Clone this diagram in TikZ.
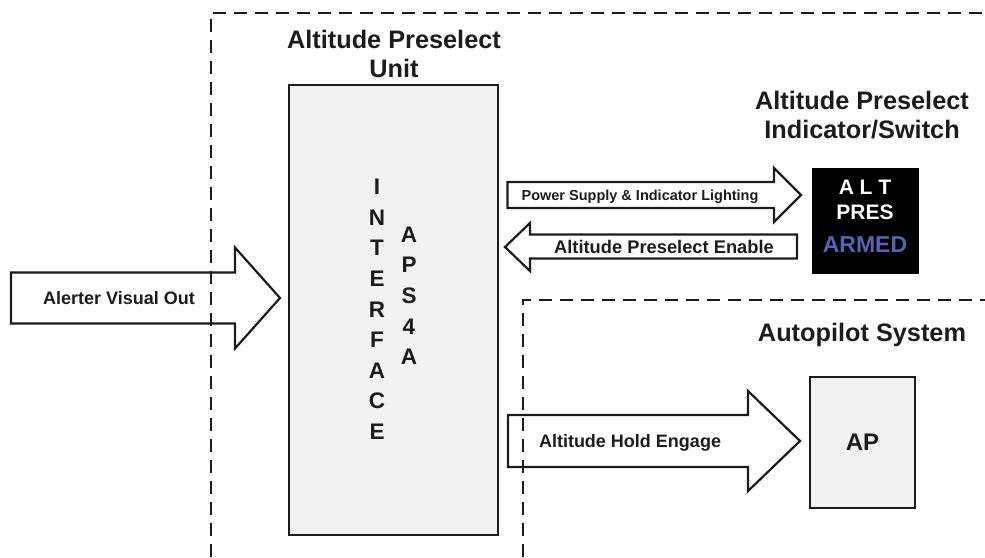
\documentclass[tikz,border=0pt]{standalone}
\usepackage{fontspec}
\setmainfont{Liberation Sans}
\usetikzlibrary{positioning}

\definecolor{boxgray}{HTML}{F2F2F2}
\definecolor{armedblue}{HTML}{5366B5}
\definecolor{inkgray}{HTML}{1C1C1C}

\begin{document}
\begin{tikzpicture}[x=1pt,y=-1pt,
    frame/.style={draw=inkgray, line width=2.6pt, dash pattern=on 13pt off 8pt},
    unitbox/.style={draw=inkgray, line width=2.4pt, fill=boxgray},
    fatarrow/.style={draw=inkgray, line width=2.2pt, line join=miter},
    lbl/.style={font=\bfseries\fontsize{18}{21}\selectfont, text=inkgray, text depth=0pt},
    title/.style={font=\bfseries\fontsize{25.3}{29}\selectfont, text=inkgray, align=center},
    letter/.style={font=\bfseries\fontsize{22.5}{22.5}\selectfont, text=inkgray, inner sep=0pt}]

    \useasboundingbox (0,0) rectangle (985,557);

    % Boxes
    \node[unitbox, minimum width=209pt, minimum height=450pt] (aps) at (393.5,310) {};
    \node[draw=black, fill=black, line width=1pt, minimum width=106pt, minimum height=105pt] (ind) at (865,220.5) {};
    \node[unitbox, minimum width=105pt, minimum height=131pt,
          font=\bfseries\fontsize{24}{24}\selectfont, text=inkgray] (ap) at (862.5,442.5) {AP};

    % Titles
    \node[title] (unittitle) at (394,54) {Altitude Preselect\\Unit};
    \node[title] (indtitle) at (862,115.5) {Altitude Preselect\\Indicator/Switch};
    \node[title] (aptitle) at (862,335) {Autopilot System};

    % Vertical lettering
    \foreach \c [count=\i from 0] in {I,N,T,E,R,F,A,C,E} {
        \node[letter] (int\i) at (377,187+30.6*\i) {\c};
    }
    \foreach \c [count=\i from 0] in {A,P,S,4,A} {
        \node[letter] (type\i) at (409,234.5+30.6*\i) {\c};
    }

    % Indicator/switch face
    \node[letter, text=white, font=\bfseries\fontsize{21}{21}\selectfont] (alt) at (865,187) {A L T};
    \node[letter, text=white, font=\bfseries\fontsize{21}{21}\selectfont] (pres) at (865,212) {PRES};
    \node[letter, text=armedblue, font=\bfseries\fontsize{23}{23}\selectfont] (armed) at (865,245) {ARMED};

    % Block arrows pointing right: tail x / centre y / head base x / tip x / body half / head half
    \foreach \tx/\cy/\hx/\px/\bw/\hw in {11/298/235/280/25.5/50.5, 507.5/195/774/801/13/27, 508/441/748/800/26/50} {
        \draw[fatarrow] (\tx,\cy-\bw) -- (\hx,\cy-\bw) -- (\hx,\cy-\hw) -- (\px,\cy)
            -- (\hx,\cy+\hw) -- (\hx,\cy+\bw) -- (\tx,\cy+\bw) -- cycle;
    }
    % Block arrow pointing left
    \draw[fatarrow] (797,234.5) -- (530,234.5) -- (530,223) -- (505,247) -- (530,271)
        -- (530,258.5) -- (797,258.5) -- cycle;

    % Arrow labels
    \node[lbl] (alerter) at (119,298) {Alerter Visual Out};
    \node[lbl, font=\bfseries\fontsize{14.5}{17}\selectfont] (power) at (640,195) {Power Supply \& Indicator Lighting};
    \node[lbl, font=\bfseries\fontsize{18.3}{21}\selectfont] (enable) at (664,246.5) {Altitude Preselect Enable};
    \node[lbl] (hold) at (630,441) {Altitude Hold Engage};

    % Dashed system borders
    \draw[frame] (211,557) -- (211,13) -- (985,13);
    \draw[frame] (523,557) -- (523,300) -- (985,300);
\end{tikzpicture}
\end{document}
